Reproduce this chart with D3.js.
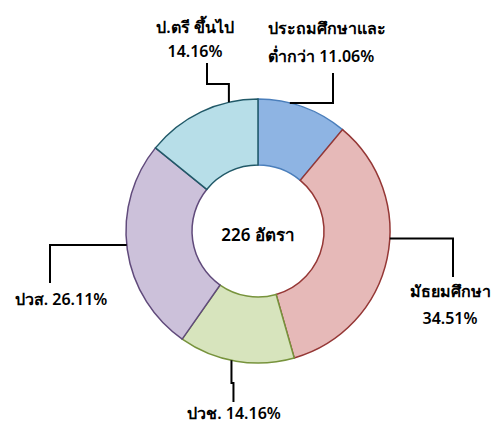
<!DOCTYPE html>
<html>
<head>
<meta charset="utf-8">
<script src="https://cdn.jsdelivr.net/npm/d3@7"></script>
<style>
	body { margin: 0; background: #fff; }
	text { font-family: Tahoma, "Noto Sans", "DejaVu Sans", sans-serif; font-size: 16px; font-weight: 600; fill: #000; }
</style>
</head>
<body>
<div id="chart"></div>
<script>
// data, clockwise from 12 o'clock
var categories = ['ประถมศึกษาและต่ำกว่า', 'มัธยมศึกษา', 'ปวช.', 'ปวส.', 'ป.ตรี ขึ้นไป']
var counts = [25, 78, 32, 59, 32]
var percents = ['11.06%', '34.51%', '14.16%', '26.11%', '14.16%']
var centerLabel = '226 อัตรา'

var fills = ['#8eb4e3', '#e6b9b8', '#d7e4bd', '#ccc1da', '#b7dee8']
var strokes = ['#4a7ebb', '#953735', '#77933c', '#604a7b', '#215968']

var width = 494
var height = 425
var cx = 258, cy = 231
var outerR = 132, innerR = 66

var svg = d3.select('#chart').append('svg')
	.attr('width', width)
	.attr('height', height)

var g = svg.append('g')
	.attr('transform', 'translate(' + cx + ',' + cy + ')')

var data = categories.map(function(c, i) {
	return { name: c, value: counts[i], pct: percents[i], i: i }
})

var pie = d3.pie()
	.value(function(d) { return d.value })
	.sort(null)

var arc = d3.arc()
	.innerRadius(innerR)
	.outerRadius(outerR)

var arcs = pie(data)

g.selectAll('path')
	.data(arcs)
	.enter()
	.append('path')
	.attr('d', arc)
	.attr('fill', function(d) { return fills[d.data.i] })
	.attr('stroke', function(d) { return strokes[d.data.i] })
	.attr('stroke-width', 1.5)

g.append('text')
	.attr('text-anchor', 'middle')
	.attr('y', 10)
	.style('font-size', '17px')
	.text(centerLabel)

// label layout: where the leader leaves the ring (fraction of slice), elbow points, text lines
var labelLayout = [
	{ t: 0.35, path: function(p) { return [p, [333 - cx, p[1]], [333 - cx, 73 - cy]] },
	  lines: [[268, 34, 'start', 'ประถมศึกษาและ'], [268, 62, 'start', 'ต่ำกว่า 11.06%']] },
	{ t: 0.43, path: function(p) { return [p, [453 - cx, p[1]], [453 - cx, 277 - cy]] },
	  lines: [[450, 297, 'middle', 'มัธยมศึกษา'], [450, 324, 'middle', '34.51%']] },
	{ t: 0.54, path: function(p) { return [p, [p[0], 383 - cy], [p[0] + 2, 383 - cy], [p[0] + 2, 402 - cy]] },
	  lines: [[234, 419, 'middle', 'ปวช. 14.16%']] },
	{ t: 0.52, path: function(p) { return [p, [50 - cx, p[1]], [50 - cx, 283 - cy]] },
	  lines: [[61, 305, 'middle', 'ปวส. 26.11%']] },
	{ t: 0.75, path: function(p) { return [p, [p[0], 84 - cy], [207 - cx, 84 - cy], [207 - cx, 63 - cy]] },
	  lines: [[195, 33, 'middle', 'ป.ตรี ขึ้นไป'], [195, 57, 'middle', '14.16%']] }
]

var line = d3.line()

arcs.forEach(function(a, i) {
	var lay = labelLayout[i]
	var ang = a.startAngle + (a.endAngle - a.startAngle) * lay.t
	var p = d3.pointRadial(ang, outerR)
	g.append('path')
		.attr('d', line(lay.path(p)))
		.attr('fill', 'none')
		.attr('stroke', '#000')
		.attr('stroke-width', 2)
	lay.lines.forEach(function(l) {
		svg.append('text')
			.attr('x', l[0])
			.attr('y', l[1])
			.attr('text-anchor', l[2])
			.text(l[3])
	})
})
</script>
</body>
</html>
